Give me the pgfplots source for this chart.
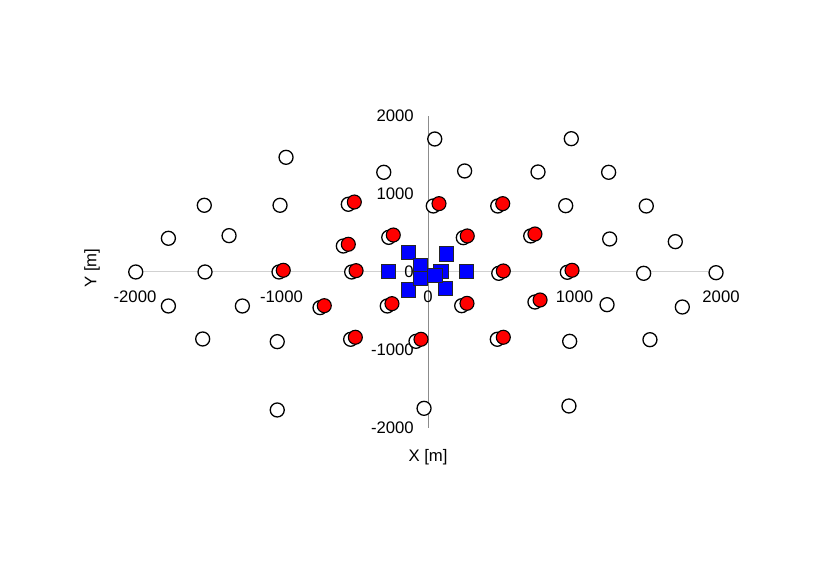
\documentclass[border=0pt]{standalone}
\usepackage{pgfplots}
\pgfplotsset{compat=1.18}
\usepackage{fontspec}
\setmainfont{Liberation Sans}
\begin{document}
\fontsize{16.7bp}{20bp}\selectfont
\begin{tikzpicture}
\begin{axis}[
  scale only axis,
  width=586bp, height=312bp,
  xmin=-2000, xmax=2000, ymin=-2000, ymax=2000,
  axis lines=middle,
  clip=false,
  x axis line style={draw=black!18, line width=1pt, -},
  y axis line style={draw=black!45, line width=1pt, -},
  xtick={-2000,-1000,0,1000,2000},
  ytick={-2000,-1000,0,1000,2000},
  major tick length=0pt,
  hide obscured x ticks=false,
  hide obscured y ticks=false,
  /pgf/number format/assume math mode=true,
  /pgf/number format/1000 sep={},
  xticklabel style={anchor=north, yshift=-13bp, font=\fontsize{16.7bp}{20bp}\selectfont},
  yticklabel style={anchor=east, xshift=-8.5bp, font=\fontsize{16.7bp}{20bp}\selectfont},
]
\draw[draw=none] (axis cs:-2921.5,-3897) rectangle (axis cs:2744,3487);
\addplot[only marks, mark=*, mark size=7bp, mark options={fill=white, draw=black, line width=1.3bp}] coordinates {
(-969,1470) (-302,1278) (-1527,855) (-1010,855) (-544,868) (-1772,432) (-1358,466) (-268,444) (-578,333)
(-1995,0) (-1522,0) (-1017,0) (-521,0) (-1772,-436) (-1267,-436) (-737,-457) (-278,-436)
(-1538,-859) (-1029,-893) (-528,-863) (-82,-889) (-1029,-1769) (-27,-1748)
(46,1705) (978,1709) (250,1295) (751,1282) (1233,1278) (36,846) (476,846) (940,850) (1490,846)
(241,440) (701,462) (1240,423) (1688,389) (483,-17) (951,-4) (1472,-17) (1966,-9)
(230,-432) (730,-385) (1222,-419) (1736,-449) (473,-863) (967,-889) (1515,-868) (962,-1718)
};
\addplot[only marks, mark=*, mark size=7bp, mark options={fill=red, draw=black, line width=1.1bp}] coordinates {
(-503,897) (-237,474) (-544,355) (-988,22) (-491,17) (-708,-432) (-246,-406) (-496,-837) (-48,-863)
(75,876) (510,876) (268,462) (730,487) (514,13) (983,22) (266,-402) (765,-359) (514,-837)
};
\addplot[only marks, mark=square*, mark size=7.2bp, mark options={fill=blue, draw=black!85, line width=1bp}] coordinates {
(-134,252) (128,231) (-271,4) (264,4) (-134,-231) (121,-209) (89,4) (-50,77) (-50,-81) (48,-47)
};
\node at (axis cs:0,-2378) {X [m]};
\node[rotate=90] at (axis cs:-2293,51) {Y [m]};
\end{axis}
\end{tikzpicture}
\end{document}
